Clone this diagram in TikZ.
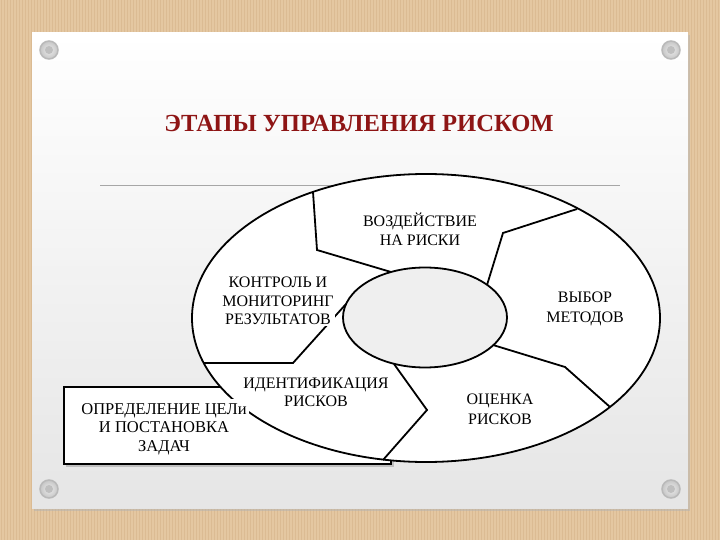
\documentclass[tikz,border=0pt]{standalone}
\usepackage{fontspec}
\setmainfont{Liberation Serif}
\definecolor{wood}{HTML}{E4C7A1}
\definecolor{woodd}{HTML}{D5B289}
\definecolor{titlered}{HTML}{8E1515}
\definecolor{innergray}{HTML}{EFEFEF}
\tikzset{
  ringline/.style={line width=1.8pt, black},
  divline/.style={line width=1.8pt, black, line join=miter},
  lbl/.style={align=center, font=\fontsize{16}{19.5}\selectfont, inner sep=1pt, fill=white},
  screw/.style={circle, minimum size=18pt, inner sep=0pt, draw=gray!55, line width=1.5pt,
    inner color=gray!15, outer color=gray!45},
}
\begin{document}
\begin{tikzpicture}[x=1pt,y=-1pt]
\useasboundingbox (0,0) rectangle (720,540);
% wood background
\fill[wood] (0,0) rectangle (720,540);
\foreach \i in {1,4,...,720} \draw[woodd, line width=1pt, opacity=0.55] (\i,0) -- (\i,540);
% card
\fill[black!30, opacity=0.5] (34,35) rectangle (690,511);
\shade[top color=white, bottom color=black!10] (32,33) rectangle (688,508);
% screws
\node[screw] (s1) at (49,50) {};
\node[screw] (s2) at (671,50) {};
\node[screw] (s3) at (49,489) {};
\node[screw] (s4) at (671,489) {};
\foreach \s in {s1,s2,s3,s4} \fill[gray!50] (\s) circle (4pt);
% title
\node[text=titlered, font=\bfseries\fontsize{24.6}{28}\selectfont] (title) at (359,123) {ЭТАПЫ УПРАВЛЕНИЯ РИСКОМ};
% rule
\draw[black!35, line width=0.8pt] (100,185) -- (620,185);
% goal rectangle
\fill[black!25] (66,390) rectangle (394,467);
\node[draw, line width=2.5pt, fill=white, minimum width=327pt, minimum height=77pt, inner sep=0pt] (goal) at (227.5,425.5) {};
% outer ring
\draw[ringline, fill=white] (426,318) ellipse [x radius=234pt, y radius=144pt];
\draw[ringline, fill=innergray] (425,317.5) ellipse [x radius=82pt, y radius=50pt];
% dividers
\coordinate (a1) at (313,192); \coordinate (a2) at (317,250); \coordinate (a3) at (391,272);
\coordinate (b1) at (577,209); \coordinate (b2) at (503,233); \coordinate (b3) at (487,285);
\coordinate (c1) at (493,345); \coordinate (c2) at (565,367); \coordinate (c3) at (610,407);
\coordinate (d1) at (394,364); \coordinate (d2) at (427,410); \coordinate (d3) at (383,460);
\coordinate (e1) at (204,363); \coordinate (e2) at (293,363); \coordinate (e3) at (346,304);
\draw[divline] (a1) -- (a2) -- (a3);
\draw[divline] (b1) -- (b2) -- (b3);
\draw[divline] (c1) -- (c2) -- (c3);
\draw[divline] (d1) -- (d2) -- (d3);
\draw[divline] (e1) -- (e2) -- (e3);
% labels
\node[lbl] (infl) at (420,229.5) {ВОЗДЕЙСТВИЕ\\НА РИСКИ};
\node[lbl, font=\fontsize{16}{18.5}\selectfont] (ctrl) at (278,301) {КОНТРОЛЬ И\\МОНИТОРИНГ\\РЕЗУЛЬТАТОВ};
\node[lbl] (meth) at (585,309) {ВЫБОР\\МЕТОДОВ};
\node[lbl] (eval) at (500,409.5) {ОЦЕНКА\\РИСКОВ};
\node[lbl, font=\fontsize{16}{18}\selectfont] (ident) at (316,392.5) {ИДЕНТИФИКАЦИЯ\\РИСКОВ};
\node[lbl, font=\fontsize{16.5}{18.5}\selectfont, inner xsep=2pt, inner ysep=4pt] (goaltext) at (164,429) {ОПРЕДЕЛЕНИЕ ЦЕЛи\\И ПОСТАНОВКА\\ЗАДАЧ};
\end{tikzpicture}
\end{document}
